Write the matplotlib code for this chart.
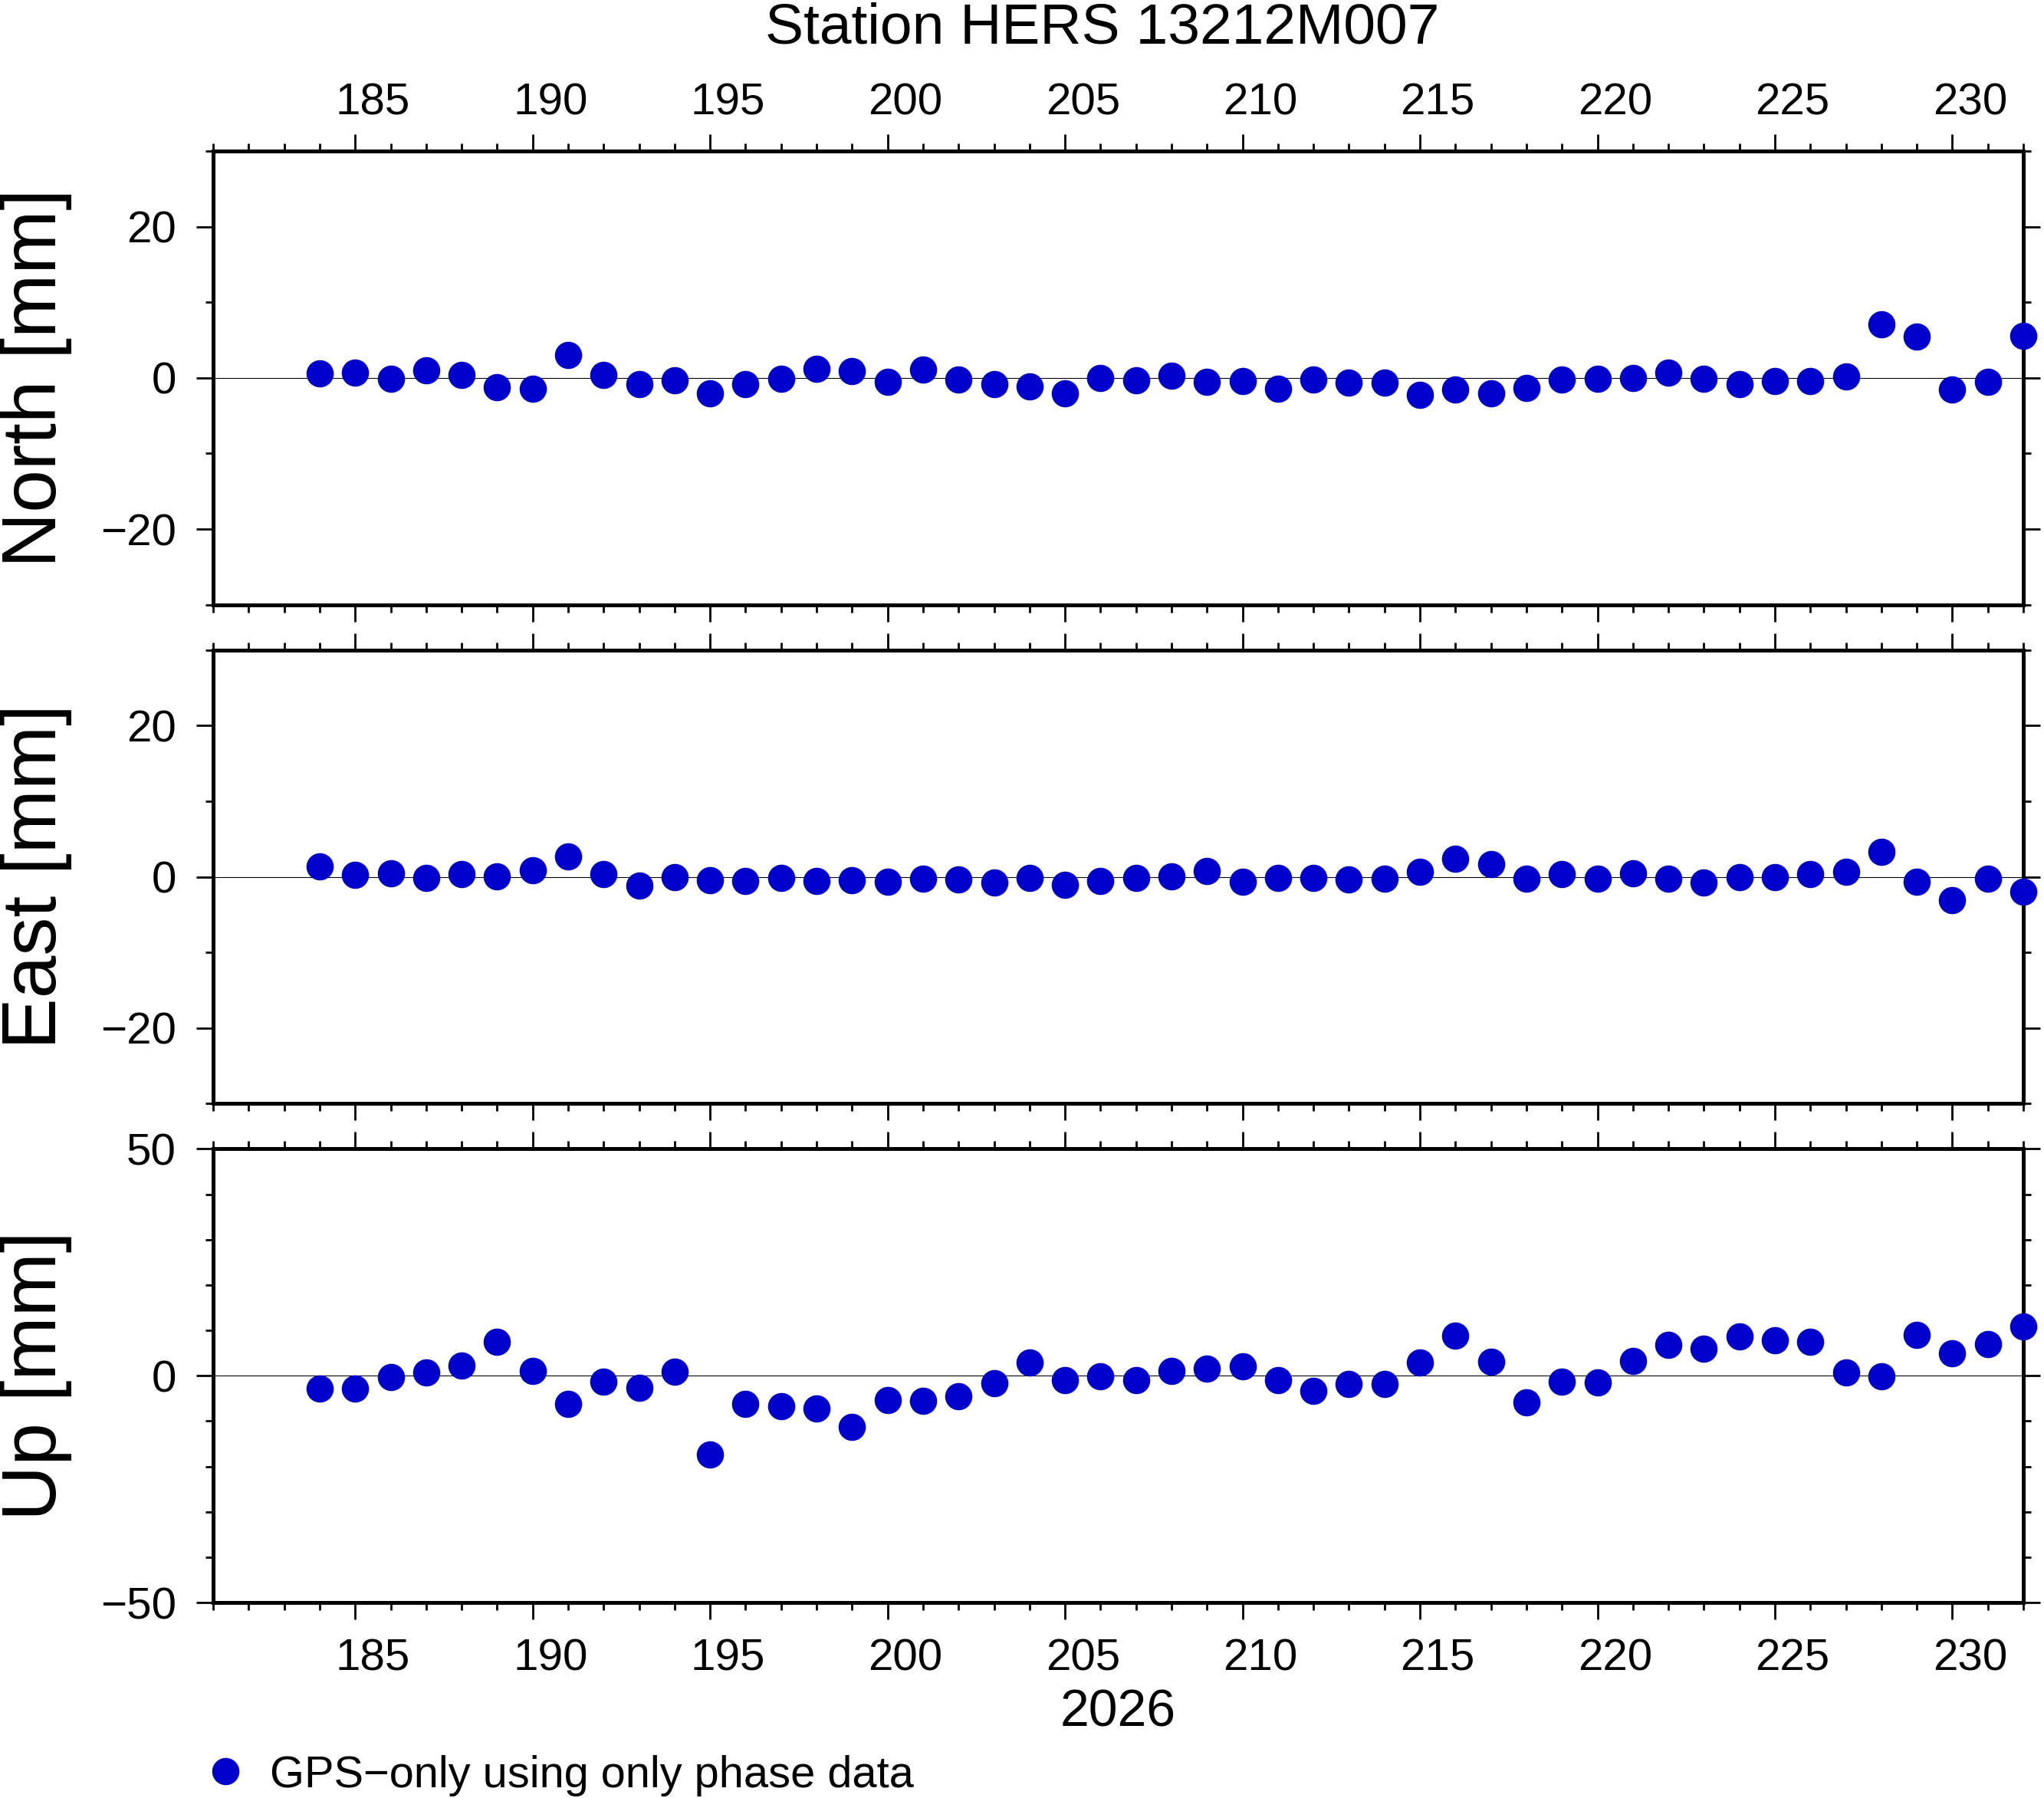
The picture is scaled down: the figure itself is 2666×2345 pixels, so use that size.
import matplotlib
matplotlib.use("Agg")
import matplotlib.pyplot as plt
from matplotlib.ticker import MultipleLocator, FixedLocator
from matplotlib.transforms import ScaledTranslation

plt.rcParams['font.family'] = ['Liberation Sans', 'DejaVu Sans']

# day of year 2026
days = [184, 185, 186, 187, 188, 189, 190, 191, 192, 193,
        194, 195, 196, 197, 198, 199, 200, 201, 202, 203,
        204, 205, 206, 207, 208, 209, 210, 211, 212, 213,
        214, 215, 216, 217, 218, 219, 220, 221, 222, 223,
        224, 225, 226, 227, 228, 229, 230, 231, 232]

north = [0.6, 0.7, -0.1, 1.0, 0.4, -1.2, -1.4, 3.0, 0.4, -0.8,
         -0.3, -2.0, -0.8, -0.1, 1.2, 0.85, -0.5, 1.1, -0.2, -0.8,
         -1.1, -2.0, 0.0, -0.3, 0.3, -0.5, -0.4, -1.4, -0.2, -0.6,
         -0.6, -2.3, -1.5, -2.0, -1.3, -0.2, -0.1, 0.0, 0.7, -0.1,
         -0.8, -0.4, -0.4, 0.15, 7.1, 5.5, -1.5, -0.5, 5.6]

east = [1.4, 0.3, 0.5, -0.15, 0.35, 0.05, 0.9, 2.7, 0.35, -1.2,
        0.0, -0.45, -0.55, -0.15, -0.6, -0.45, -0.7, -0.2, -0.4, -0.8,
        -0.1, -1.1, -0.6, -0.1, 0.1, 0.8, -0.7, -0.15, -0.1, -0.4,
        -0.3, 0.7, 2.4, 1.7, -0.2, 0.4, -0.2, 0.5, -0.2, -0.8,
        0.0, 0.0, 0.35, 0.7, 3.3, -0.7, -3.1, -0.3, -2.0]

up = [-2.9, -2.8, -0.35, 0.65, 2.3, 7.4, 1.1, -6.2, -1.35, -2.6,
      0.9, -17.3, -6.2, -6.7, -7.3, -11.3, -5.4, -5.6, -4.6, -1.6,
      3.0, -0.9, -0.2, -0.9, 1.1, 1.5, 2.0, -0.9, -3.3, -1.8,
      -1.8, 3.0, 8.9, 3.1, -5.8, -1.3, -1.4, 3.3, 6.8, 6.0,
      8.7, 7.8, 7.5, 0.8, -0.1, 9.0, 5.0, 7.0, 10.9]

panel_names = ['North [mm]', 'East [mm]', 'Up [mm]']
panel_series = [north, east, up]
panel_ylim = [(-30, 30), (-30, 30), (-50, 50)]
panel_major = [[-20, 0, 20], [-20, 0, 20], [-50, 0, 50]]

xlim = (181, 232)
x_major = [185, 190, 195, 200, 205, 210, 215, 220, 225, 230]

title = 'Station HERS 13212M007'
year_label = '2026'
legend_label = 'GPS\u2212only using only phase data'
dot_color = '#0000CD'

fig = plt.figure(figsize=(13.33, 11.725), dpi=200)

left, width, height = 0.1043, 0.8856, 0.2523
bottoms = [0.6637, 0.3862, 0.1087]

tick_fs = 21
axes = []
for i, (name, ser, ylim, ymaj) in enumerate(zip(panel_names, panel_series,
                                                 panel_ylim, panel_major)):
    ax = fig.add_axes([left, bottoms[i], width, height])
    ax.axhline(0, color='black', lw=0.4, zorder=1)
    line, = ax.plot(days, ser, 'o', color=dot_color, ms=12.8, mew=0,
                    clip_on=False, zorder=3, label=legend_label)
    ax.set_xlim(*xlim)
    ax.set_ylim(*ylim)
    ax.xaxis.set_major_locator(FixedLocator(x_major))
    ax.xaxis.set_minor_locator(MultipleLocator(1))
    ax.yaxis.set_major_locator(FixedLocator(ymaj))
    ax.yaxis.set_minor_locator(MultipleLocator(10))
    for sp in ax.spines.values():
        sp.set_linewidth(1.8)
    ax.tick_params(which='both', direction='out', width=1.0,
                   top=True, bottom=True, left=True, right=True,
                   labeltop=(i == 0), labelbottom=(i == 2),
                   labelleft=True, labelright=False, labelsize=tick_fs)
    ax.tick_params(which='major', length=8)
    ax.tick_params(which='minor', length=3.6)
    ax.tick_params(axis='y', which='major', pad=9.4)
    ax.tick_params(axis='x', which='major', pad=4.7 if i == 0 else 8.6)
    fig.text(0.0273, bottoms[i] + height / 2, name, rotation=90,
             rotation_mode='anchor', ha='center', va='baseline', fontsize=36)
    axes.append(ax)

axes[2].set_xlabel(year_label, fontsize=24.5, labelpad=4)

# day labels are centred on the day interval, GMT style
ax_w_in = width * fig.get_figwidth()
dx = 0.5 * ax_w_in / (xlim[1] - xlim[0])
shift = ScaledTranslation(dx, 0, fig.dpi_scale_trans)
for ax in (axes[0], axes[2]):
    for lab in ax.get_xticklabels():
        lab.set_transform(lab.get_transform() + shift)

fig.text(0.5394, 0.9757, title, ha='center', va='baseline', fontsize=27.0)

fig.legend(handles=[line], labels=[legend_label], loc='center left',
           bbox_to_anchor=(0.0994, 0.0125), frameon=False, borderpad=0,
           borderaxespad=0, handlelength=1.0, handletextpad=0.5,
           fontsize=20.8, numpoints=1)

fig.savefig('out.png', dpi=200)
